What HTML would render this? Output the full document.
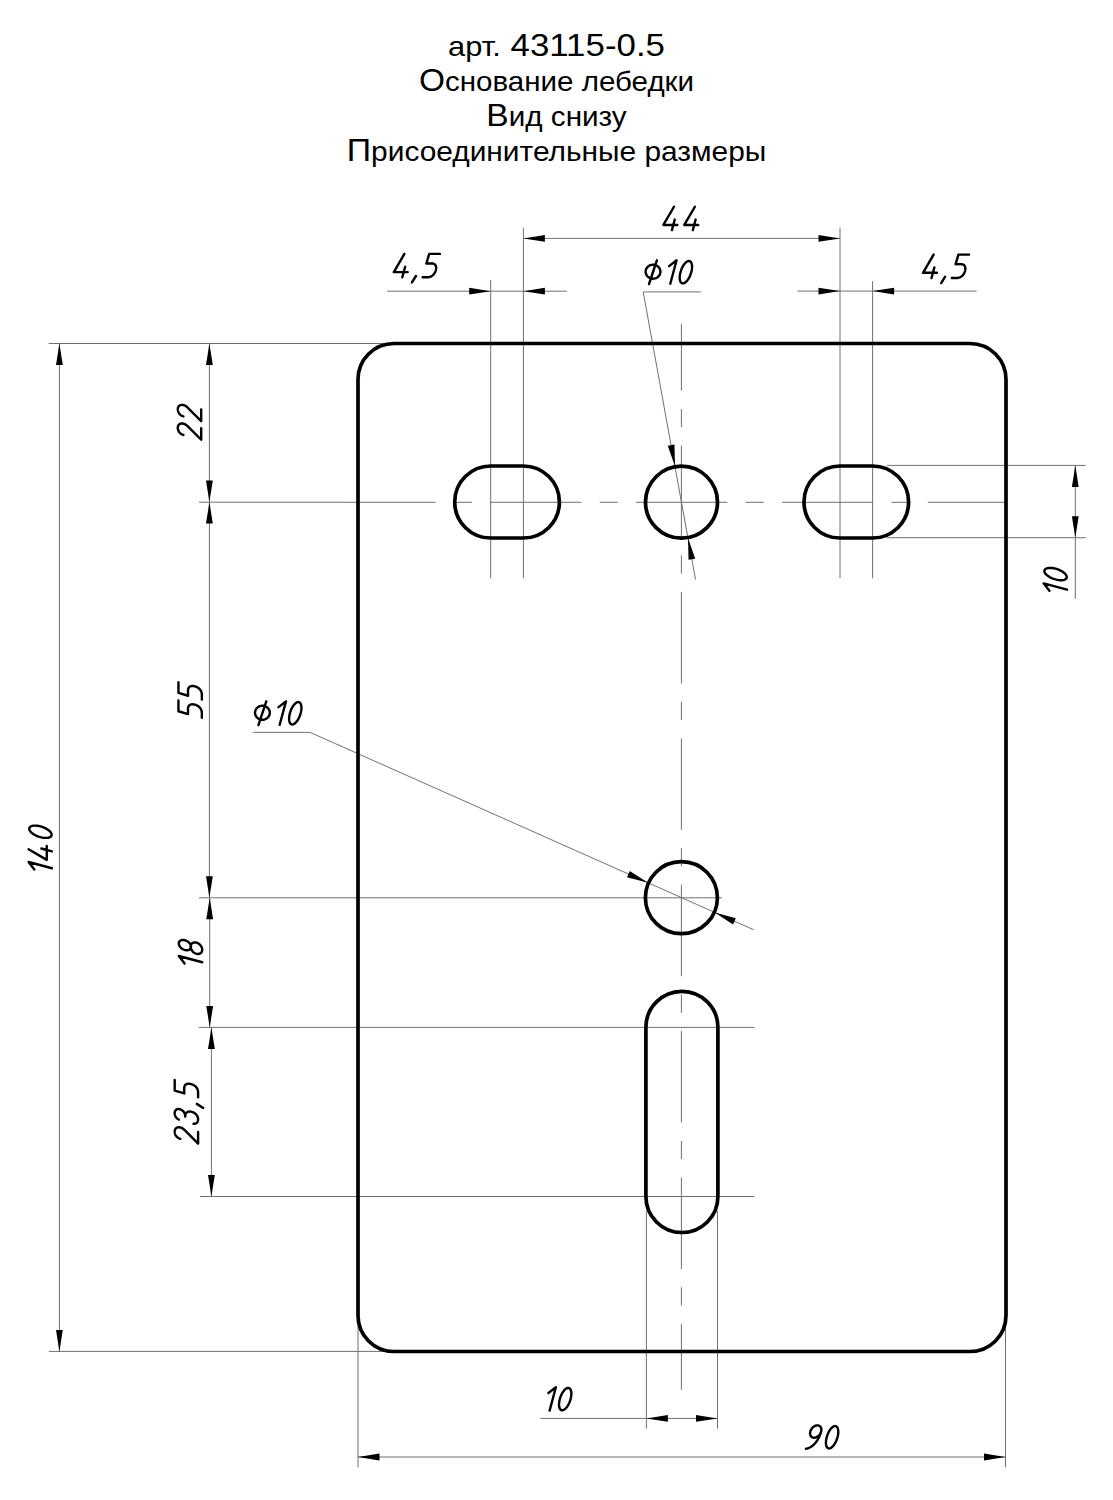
<!DOCTYPE html>
<html><head><meta charset="utf-8"><style>
html,body{margin:0;padding:0;background:#fff;width:1113px;height:1500px;overflow:hidden}
.t{position:absolute;left:0;width:1113px;text-align:center;font-family:"Liberation Sans",sans-serif;font-size:28px;line-height:35px;color:#000}
.c{font-size:31.7px}
svg{position:absolute;left:0;top:0}
</style></head><body>
<div class="t" style="top:27.7px;transform:scaleX(1.100)">арт.<span class="c"> 43115-0.5</span></div>
<div class="t" style="top:62.8px;transform:scaleX(1.055)"><span class="c">О</span>снование лебедки</div>
<div class="t" style="top:97.8px;transform:scaleX(1.059)"><span class="c">В</span>ид снизу</div>
<div class="t" style="top:132.7px;transform:scaleX(1.067)"><span class="c">П</span>рисоединительные размеры</div>
<svg width="1113" height="1500" viewBox="0 0 1113 1500">
<g fill="none" stroke="#707070" stroke-width="1"><line x1="48.70" y1="343.50" x2="393.00" y2="343.50"/>
<line x1="48.80" y1="1351.40" x2="393.00" y2="1351.40"/>
<line x1="199.00" y1="502.20" x2="344.20" y2="502.20"/>
<line x1="199.00" y1="897.80" x2="722.10" y2="897.80"/>
<line x1="199.00" y1="1027.40" x2="754.40" y2="1027.40"/>
<line x1="200.00" y1="1196.50" x2="754.40" y2="1196.50"/>
<line x1="887.00" y1="465.40" x2="1085.70" y2="465.40"/>
<line x1="887.00" y1="537.70" x2="1085.70" y2="537.70"/>
<line x1="490.70" y1="280.00" x2="490.70" y2="578.30"/>
<line x1="523.40" y1="227.60" x2="523.40" y2="578.30"/>
<line x1="840.00" y1="227.60" x2="840.00" y2="578.30"/>
<line x1="872.60" y1="281.20" x2="872.60" y2="578.30"/>
<line x1="646.40" y1="1211.00" x2="646.40" y2="1428.60"/>
<line x1="717.50" y1="1211.00" x2="717.50" y2="1428.60"/>
<line x1="358.00" y1="1326.00" x2="358.00" y2="1467.40"/>
<line x1="1005.50" y1="1326.00" x2="1005.50" y2="1467.40"/>
<line x1="59.40" y1="343.50" x2="59.40" y2="1351.40"/>
<line x1="209.40" y1="343.50" x2="209.40" y2="897.70"/>
<line x1="209.70" y1="897.70" x2="209.70" y2="1027.40"/>
<line x1="211.40" y1="1027.40" x2="211.40" y2="1196.50"/>
<line x1="523.40" y1="238.40" x2="840.00" y2="238.40"/>
<line x1="387.20" y1="291.20" x2="566.90" y2="291.20"/>
<line x1="797.40" y1="291.10" x2="976.70" y2="291.10"/>
<line x1="1075.30" y1="465.40" x2="1075.30" y2="598.90"/>
<line x1="540.50" y1="1418.40" x2="717.50" y2="1418.40"/>
<line x1="358.00" y1="1457.00" x2="1005.50" y2="1457.00"/>
<line x1="643.20" y1="291.90" x2="700.90" y2="291.90"/>
<line x1="643.20" y1="291.90" x2="695.50" y2="579.50"/>
<line x1="252.90" y1="732.40" x2="310.10" y2="732.40"/>
<line x1="310.10" y1="732.40" x2="753.80" y2="929.80"/></g>
<g fill="none" stroke="#707070" stroke-width="1"><line x1="681.4" y1="324" x2="681.4" y2="1389.8" stroke-dasharray="91.5 18.3 18.3 18.3" stroke-dashoffset="24.9"/>
<line x1="344.2" y1="502.3" x2="1005" y2="502.3" stroke-dasharray="91.3 18.3 18.0 18.3"/></g>
<g fill="#000" stroke="none"><polygon points="59.40,343.50 62.80,365.00 56.00,365.00"/>
<polygon points="59.40,1351.40 56.00,1329.90 62.80,1329.90"/>
<polygon points="209.40,343.50 212.80,365.00 206.00,365.00"/>
<polygon points="209.40,502.00 206.00,480.50 212.80,480.50"/>
<polygon points="209.40,502.00 212.80,523.50 206.00,523.50"/>
<polygon points="209.40,897.70 206.00,876.20 212.80,876.20"/>
<polygon points="209.70,897.70 213.10,919.20 206.30,919.20"/>
<polygon points="209.70,1027.40 206.30,1005.90 213.10,1005.90"/>
<polygon points="211.40,1027.40 214.80,1048.90 208.00,1048.90"/>
<polygon points="211.40,1196.50 208.00,1175.00 214.80,1175.00"/>
<polygon points="523.40,238.40 544.90,235.00 544.90,241.80"/>
<polygon points="840.00,238.40 818.50,241.80 818.50,235.00"/>
<polygon points="490.70,291.20 469.20,294.60 469.20,287.80"/>
<polygon points="523.40,291.20 544.90,287.80 544.90,294.60"/>
<polygon points="840.00,291.10 818.50,294.50 818.50,287.70"/>
<polygon points="872.60,291.10 894.10,287.70 894.10,294.50"/>
<polygon points="1075.30,465.40 1078.70,486.90 1071.90,486.90"/>
<polygon points="1075.30,537.70 1071.90,516.20 1078.70,516.20"/>
<polygon points="646.40,1418.40 667.90,1415.00 667.90,1421.80"/>
<polygon points="717.50,1418.40 696.00,1421.80 696.00,1415.00"/>
<polygon points="358.00,1457.00 379.50,1453.60 379.50,1460.40"/>
<polygon points="1005.50,1457.00 984.00,1460.40 984.00,1453.60"/>
<polygon points="674.97,466.29 667.78,445.74 674.47,444.53"/>
<polygon points="688.03,538.11 695.22,558.66 688.53,559.87"/>
<polygon points="648.05,882.86 627.03,877.23 629.79,871.02"/>
<polygon points="714.75,912.54 735.77,918.17 733.01,924.38"/></g>
<g fill="none" stroke="#000" stroke-width="3.7"><rect x="358.00" y="343.50" width="648.00" height="1008.00" rx="36.0" ry="36.0"/>
<path d="M490.70,466.00 L523.40,466.00 A36,36 0 0 1 523.40,538.00 L490.70,538.00 A36,36 0 0 1 490.70,466.00 Z"/>
<path d="M840.00,466.00 L872.60,466.00 A36,36 0 0 1 872.60,538.00 L840.00,538.00 A36,36 0 0 1 840.00,466.00 Z"/>
<circle cx="681.5" cy="502.2" r="36"/>
<circle cx="681.4" cy="897.7" r="36"/>
<path d="M717.90,1027.30 L717.90,1196.50 A36,36 0 0 1 645.90,1196.50 L645.90,1027.30 A36,36 0 0 1 717.90,1027.30 Z"/></g>
<g fill="none" stroke="#000" stroke-width="2.40" stroke-linecap="round" stroke-linejoin="round"><path d="M673.98,206.75 663.40,224.95 677.30,224.95M674.75,219.55 671.91,230.15M694.88,206.75 684.30,224.95 698.20,224.95M695.65,219.55 692.81,230.15"/>
<path d="M404.39,253.90 393.81,272.10 407.71,272.10M405.16,266.70 402.32,277.30M415.97,276.00 411.95,282.40M439.89,253.90 429.19,253.90 426.42,263.50 431.34,263.40 431.34,263.40 432.11,263.43 432.81,263.54 433.45,263.70 434.02,263.94 434.53,264.23 434.97,264.59 435.34,265.01 435.64,265.48 435.88,266.01 436.04,266.60 436.13,267.24 436.16,267.93 436.11,268.67 435.99,269.46 435.79,270.30 435.79,270.30 435.53,271.16 435.21,271.96 434.84,272.72 434.43,273.42 433.97,274.07 433.46,274.66 432.91,275.20 432.33,275.68 431.71,276.10 431.06,276.46 430.38,276.76 429.67,276.99 428.94,277.16 428.19,277.27 427.42,277.30 422.62,277.30"/>
<path d="M933.59,254.60 923.01,272.80 936.91,272.80M934.36,267.40 931.52,278.00M945.17,276.70 941.15,283.10M969.09,254.60 958.39,254.60 955.62,264.20 960.54,264.10 960.54,264.10 961.31,264.13 962.01,264.24 962.65,264.40 963.22,264.64 963.73,264.93 964.17,265.29 964.54,265.71 964.84,266.18 965.08,266.71 965.24,267.30 965.33,267.94 965.36,268.63 965.31,269.37 965.19,270.16 964.99,271.00 964.99,271.00 964.73,271.86 964.41,272.66 964.04,273.42 963.63,274.12 963.17,274.77 962.66,275.36 962.11,275.90 961.53,276.38 960.91,276.80 960.26,277.16 959.58,277.46 958.87,277.69 958.14,277.86 957.39,277.97 956.62,278.00 951.82,278.00"/>
<path d="M660.42,271.70 660.32,272.82 660.04,273.92 659.57,274.95 658.93,275.91 658.14,276.75 657.22,277.46 656.19,278.02 655.08,278.42 653.91,278.65 652.72,278.69 651.54,278.56 650.39,278.25 649.32,277.76 648.34,277.12 647.48,276.34 646.76,275.44 646.21,274.44 645.83,273.38 645.64,272.26 645.64,271.14 645.83,270.02 646.21,268.96 646.76,267.96 647.48,267.06 648.34,266.28 649.32,265.64 650.39,265.15 651.54,264.84 652.72,264.71 653.91,264.75 655.08,264.98 656.19,265.38 657.22,265.94 658.14,266.65 658.93,267.49 659.57,268.45 660.04,269.48 660.32,270.58 660.42,271.70M656.87,260.30 649.02,284.00M669.12,266.10 676.57,260.30 670.30,283.70M691.28,272.20 690.73,274.00 690.05,275.75 689.27,277.40 688.40,278.93 687.46,280.28 686.48,281.42 685.49,282.32 684.50,282.96 683.55,283.32 682.67,283.39 681.86,283.17 681.16,282.67 680.58,281.90 680.14,280.88 679.85,279.63 679.71,278.19 679.74,276.59 679.92,274.88 680.26,273.10 680.74,271.30 681.36,269.52 682.09,267.81 682.92,266.21 683.83,264.77 684.79,263.52 685.78,262.50 686.77,261.73 687.74,261.23 688.66,261.01 689.51,261.08 690.27,261.44 690.91,262.08 691.42,262.98 691.79,264.12 692.00,265.47 692.06,267.00 691.96,268.65 691.69,270.40 691.28,272.20"/>
<path d="M1049.45,590.82 1043.65,583.37 1067.05,589.64M1055.55,568.66 1057.35,569.21 1059.10,569.88 1060.75,570.67 1062.28,571.54 1063.63,572.48 1064.77,573.46 1065.67,574.45 1066.31,575.44 1066.67,576.38 1066.74,577.27 1066.52,578.08 1066.02,578.78 1065.25,579.35 1064.23,579.80 1062.98,580.09 1061.54,580.22 1059.94,580.20 1058.23,580.02 1056.45,579.68 1054.65,579.20 1052.87,578.58 1051.16,577.85 1049.56,577.02 1048.12,576.11 1046.87,575.15 1045.85,574.16 1045.08,573.16 1044.58,572.20 1044.36,571.27 1044.43,570.43 1044.79,569.67 1045.43,569.03 1046.33,568.52 1047.47,568.15 1048.82,567.94 1050.35,567.88 1052.00,567.98 1053.75,568.24 1055.55,568.66"/>
<path d="M183.40,434.96 182.74,434.75 182.11,434.49 181.51,434.18 180.95,433.82 180.44,433.42 179.96,432.98 179.53,432.51 179.14,432.01 178.79,431.48 178.50,430.92 178.25,430.34 178.06,429.74 177.91,429.12 177.83,428.49 177.80,427.86 177.80,427.86 177.83,427.22 177.92,426.62 178.08,426.07 178.29,425.57 178.55,425.11 178.86,424.71 179.23,424.36 179.64,424.06 180.09,423.83 180.59,423.65 181.12,423.53 181.69,423.47 182.30,423.48 182.93,423.56 183.60,423.71 183.60,423.71 183.99,423.83 184.37,423.96 184.73,424.12 185.09,424.29 185.43,424.48 185.76,424.68 186.09,424.90 186.41,425.14 186.72,425.39 187.04,425.65 187.35,425.93 187.66,426.22 187.97,426.52 188.28,426.83 188.60,427.15 201.20,439.73 201.20,428.13M183.40,416.36 182.74,416.15 182.11,415.89 181.51,415.58 180.95,415.22 180.44,414.82 179.96,414.38 179.53,413.91 179.14,413.41 178.79,412.88 178.50,412.32 178.25,411.74 178.06,411.14 177.91,410.52 177.83,409.89 177.80,409.26 177.80,409.26 177.83,408.62 177.92,408.02 178.08,407.47 178.29,406.97 178.55,406.51 178.86,406.11 179.23,405.76 179.64,405.46 180.09,405.23 180.59,405.05 181.12,404.93 181.69,404.87 182.30,404.88 182.93,404.96 183.60,405.11 183.60,405.11 183.99,405.23 184.37,405.36 184.73,405.52 185.09,405.69 185.43,405.88 185.76,406.08 186.09,406.30 186.41,406.54 186.72,406.79 187.04,407.05 187.35,407.33 187.66,407.62 187.97,407.92 188.28,408.23 188.60,408.55 201.20,421.13 201.20,409.53"/>
<path d="M178.45,700.56 178.45,711.26 188.05,714.04 187.95,709.11 187.95,709.11 187.98,708.34 188.09,707.64 188.25,707.00 188.49,706.43 188.78,705.92 189.14,705.48 189.56,705.11 190.03,704.81 190.56,704.58 191.15,704.41 191.79,704.32 192.48,704.30 193.22,704.34 194.01,704.47 194.85,704.66 194.85,704.66 195.71,704.92 196.51,705.24 197.27,705.61 197.97,706.03 198.62,706.49 199.21,706.99 199.75,707.54 200.23,708.12 200.65,708.74 201.01,709.39 201.31,710.07 201.54,710.78 201.71,711.51 201.82,712.26 201.85,713.04 201.85,717.84M178.45,682.26 178.45,692.96 188.05,695.74 187.95,690.81 187.95,690.81 187.98,690.04 188.09,689.34 188.25,688.70 188.49,688.13 188.78,687.62 189.14,687.18 189.56,686.81 190.03,686.51 190.56,686.28 191.15,686.11 191.79,686.02 192.48,686.00 193.22,686.04 194.01,686.17 194.85,686.36 194.85,686.36 195.71,686.62 196.51,686.94 197.27,687.31 197.97,687.73 198.62,688.19 199.21,688.69 199.75,689.24 200.23,689.82 200.65,690.44 201.01,691.09 201.31,691.77 201.54,692.48 201.71,693.21 201.82,693.96 201.85,694.74 201.85,699.54"/>
<path d="M34.35,869.42 28.55,861.97 51.95,868.24M28.55,849.27 46.75,859.84 46.75,845.94M41.35,848.50 51.95,851.34M40.45,826.36 42.25,826.91 44.00,827.58 45.65,828.37 47.18,829.24 48.53,830.18 49.67,831.16 50.57,832.15 51.21,833.14 51.57,834.08 51.64,834.97 51.42,835.78 50.92,836.48 50.15,837.05 49.13,837.50 47.88,837.79 46.44,837.92 44.84,837.90 43.13,837.72 41.35,837.38 39.55,836.90 37.77,836.28 36.06,835.55 34.46,834.72 33.02,833.81 31.77,832.85 30.75,831.86 29.98,830.86 29.48,829.90 29.26,828.97 29.33,828.13 29.69,827.37 30.33,826.73 31.23,826.22 32.37,825.85 33.72,825.64 35.25,825.58 36.90,825.68 38.65,825.94 40.45,826.36"/>
<path d="M269.82,712.75 269.72,713.87 269.44,714.97 268.97,716.00 268.33,716.96 267.54,717.80 266.62,718.51 265.59,719.07 264.48,719.47 263.31,719.70 262.12,719.74 260.94,719.61 259.79,719.30 258.72,718.81 257.74,718.17 256.88,717.39 256.16,716.49 255.61,715.49 255.23,714.43 255.04,713.31 255.04,712.19 255.23,711.07 255.61,710.01 256.16,709.01 256.88,708.11 257.74,707.33 258.72,706.69 259.79,706.20 260.94,705.89 262.12,705.76 263.31,705.80 264.48,706.03 265.59,706.43 266.62,706.99 267.54,707.70 268.33,708.54 268.97,709.50 269.44,710.53 269.72,711.63 269.82,712.75M266.27,701.35 258.42,725.05M278.52,707.15 285.97,701.35 279.70,724.75M300.68,713.25 300.13,715.05 299.45,716.80 298.67,718.45 297.80,719.98 296.86,721.33 295.88,722.47 294.89,723.37 293.90,724.01 292.95,724.37 292.07,724.44 291.26,724.22 290.56,723.72 289.98,722.95 289.54,721.93 289.25,720.68 289.11,719.24 289.14,717.64 289.32,715.93 289.66,714.15 290.14,712.35 290.76,710.57 291.49,708.86 292.32,707.26 293.23,705.82 294.19,704.57 295.18,703.55 296.17,702.78 297.14,702.28 298.06,702.06 298.91,702.13 299.67,702.49 300.31,703.13 300.82,704.03 301.19,705.17 301.40,706.52 301.46,708.05 301.36,709.70 301.09,711.45 300.68,713.25"/>
<path d="M184.60,963.44 178.80,955.99 202.20,962.26M184.90,940.22 185.88,940.55 186.83,940.99 187.73,941.54 188.56,942.19 189.30,942.91 189.92,943.68 190.41,944.50 190.76,945.33 190.96,946.15 191.00,946.95 190.88,947.70 190.60,948.39 190.18,948.99 189.63,949.49 188.95,949.87 188.16,950.14 187.29,950.27 186.36,950.27 185.39,950.14 184.41,949.88 183.44,949.49 182.51,948.99 181.64,948.39 180.85,947.71 180.17,946.96 179.62,946.16 179.20,945.33 178.92,944.50 178.80,943.69 178.84,942.91 179.04,942.19 179.39,941.55 179.88,940.99 180.50,940.55 181.24,940.22 182.07,940.02 182.97,939.96 183.92,940.02 184.90,940.22M196.40,942.60 197.33,942.93 198.24,943.38 199.10,943.97 199.88,944.66 200.58,945.45 201.17,946.30 201.64,947.21 201.97,948.14 202.16,949.07 202.20,949.98 202.08,950.85 201.82,951.64 201.42,952.35 200.89,952.95 200.25,953.43 199.50,953.77 198.67,953.97 197.79,954.01 196.87,953.91 195.93,953.66 195.01,953.27 194.13,952.75 193.30,952.11 192.55,951.37 191.91,950.54 191.38,949.66 190.98,948.74 190.72,947.80 190.60,946.88 190.64,945.99 190.83,945.15 191.16,944.40 191.63,943.74 192.22,943.20 192.92,942.79 193.70,942.52 194.56,942.40 195.47,942.43 196.40,942.60"/>
<path d="M180.30,1138.77 179.64,1138.56 179.01,1138.29 178.41,1137.98 177.85,1137.63 177.34,1137.23 176.86,1136.79 176.43,1136.32 176.04,1135.82 175.69,1135.28 175.40,1134.73 175.15,1134.14 174.96,1133.54 174.81,1132.93 174.73,1132.30 174.70,1131.66 174.70,1131.66 174.73,1131.03 174.82,1130.43 174.98,1129.88 175.19,1129.38 175.45,1128.92 175.76,1128.52 176.13,1128.17 176.54,1127.87 176.99,1127.63 177.49,1127.46 178.02,1127.34 178.59,1127.28 179.20,1127.29 179.83,1127.37 180.50,1127.52 180.50,1127.52 180.89,1127.64 181.27,1127.77 181.63,1127.93 181.99,1128.10 182.33,1128.29 182.66,1128.49 182.99,1128.71 183.31,1128.95 183.62,1129.20 183.94,1129.46 184.25,1129.74 184.56,1130.03 184.87,1130.33 185.18,1130.64 185.50,1130.96 198.10,1143.54 198.10,1131.94M178.90,1119.59 178.38,1119.31 177.88,1119.01 177.43,1118.67 177.00,1118.31 176.61,1117.93 176.26,1117.53 175.93,1117.10 175.65,1116.66 175.40,1116.19 175.19,1115.71 175.01,1115.21 174.88,1114.69 174.78,1114.16 174.72,1113.62 174.70,1113.06 174.70,1113.06 174.73,1112.47 174.81,1111.91 174.95,1111.40 175.14,1110.94 175.38,1110.52 175.67,1110.15 176.00,1109.84 176.36,1109.57 176.77,1109.36 177.22,1109.20 177.70,1109.10 178.21,1109.05 178.75,1109.06 179.31,1109.13 179.90,1109.26 179.90,1109.26 180.53,1109.46 181.12,1109.71 181.68,1110.01 182.21,1110.36 182.70,1110.76 183.15,1111.19 183.56,1111.66 183.93,1112.17 184.26,1112.72 184.54,1113.29 184.77,1113.88 184.96,1114.50 185.09,1115.15 185.17,1115.80 185.20,1116.48M185.20,1116.48 185.24,1115.71 185.34,1115.00 185.51,1114.36 185.75,1113.78 186.04,1113.27 186.40,1112.82 186.81,1112.44 187.28,1112.12 187.79,1111.87 188.36,1111.69 188.96,1111.58 189.62,1111.54 190.31,1111.57 191.04,1111.67 191.80,1111.85 191.80,1111.85 192.54,1112.08 193.25,1112.37 193.91,1112.71 194.54,1113.10 195.12,1113.53 195.66,1114.00 196.15,1114.51 196.59,1115.05 196.98,1115.61 197.31,1116.20 197.59,1116.80 197.81,1117.43 197.97,1118.06 198.07,1118.69 198.10,1119.34 198.10,1119.34 198.08,1119.92 198.01,1120.46 197.89,1120.97 197.73,1121.45 197.53,1121.88 197.29,1122.27 197.01,1122.62 196.69,1122.92 196.33,1123.18 195.94,1123.39 195.51,1123.56 195.05,1123.67 194.56,1123.73 194.05,1123.75 193.50,1123.70M196.80,1103.89 203.20,1107.90M174.70,1079.96 174.70,1090.66 184.30,1093.44 184.20,1088.51 184.20,1088.51 184.23,1087.74 184.34,1087.04 184.50,1086.40 184.74,1085.83 185.03,1085.32 185.39,1084.88 185.81,1084.51 186.28,1084.21 186.81,1083.98 187.40,1083.81 188.04,1083.72 188.73,1083.70 189.47,1083.74 190.26,1083.87 191.10,1084.06 191.10,1084.06 191.96,1084.32 192.76,1084.64 193.52,1085.01 194.22,1085.43 194.87,1085.89 195.46,1086.39 196.00,1086.94 196.48,1087.52 196.90,1088.14 197.26,1088.79 197.56,1089.47 197.79,1090.18 197.96,1090.91 198.07,1091.66 198.10,1092.44 198.10,1097.24"/>
<path d="M548.43,1393.00 555.88,1387.20 549.61,1410.60M570.59,1399.10 570.04,1400.90 569.37,1402.65 568.58,1404.30 567.71,1405.83 566.77,1407.18 565.79,1408.32 564.80,1409.22 563.81,1409.86 562.87,1410.22 561.98,1410.29 561.17,1410.07 560.47,1409.57 559.90,1408.80 559.45,1407.78 559.16,1406.53 559.03,1405.09 559.05,1403.49 559.23,1401.78 559.57,1400.00 560.05,1398.20 560.67,1396.42 561.40,1394.71 562.23,1393.11 563.14,1391.67 564.10,1390.42 565.09,1389.40 566.09,1388.63 567.05,1388.13 567.98,1387.91 568.82,1387.98 569.58,1388.34 570.22,1388.98 570.73,1389.88 571.10,1391.02 571.31,1392.37 571.37,1393.90 571.27,1395.55 571.01,1397.30 570.59,1399.10"/>
<path d="M821.13,1431.55 820.79,1432.54 820.33,1433.51 819.74,1434.43 819.05,1435.27 818.27,1436.02 817.43,1436.65 816.54,1437.15 815.64,1437.50 814.73,1437.70 813.85,1437.74 813.02,1437.62 812.26,1437.34 811.59,1436.92 811.03,1436.35 810.59,1435.66 810.28,1434.86 810.11,1433.98 810.09,1433.03 810.21,1432.05 810.48,1431.05 810.88,1430.06 811.41,1429.12 812.05,1428.23 812.79,1427.44 813.60,1426.74 814.47,1426.18 815.37,1425.75 816.28,1425.47 817.17,1425.35 818.03,1425.39 818.83,1425.59 819.55,1425.95 820.16,1426.44 820.67,1427.08 821.04,1427.82 821.28,1428.67 821.38,1429.58 821.33,1430.55 821.13,1431.55M821.13,1431.55 820.59,1433.36 819.95,1435.11 819.23,1436.79 818.42,1438.40 817.54,1439.92 816.59,1441.35 815.57,1442.67 814.50,1443.89 813.38,1445.00 812.21,1445.98 811.01,1446.83 809.77,1447.53 808.50,1448.10 807.22,1448.50 805.92,1448.75M837.50,1437.25 836.95,1439.04 836.27,1440.79 835.49,1442.45 834.62,1443.98 833.68,1445.32 832.70,1446.46 831.71,1447.37 830.72,1448.01 829.77,1448.37 828.89,1448.44 828.08,1448.22 827.38,1447.72 826.80,1446.95 826.36,1445.92 826.07,1444.67 825.93,1443.23 825.96,1441.64 826.14,1439.93 826.48,1438.15 826.96,1436.35 827.58,1434.57 828.31,1432.86 829.14,1431.26 830.05,1429.82 831.01,1428.57 832.00,1427.55 832.99,1426.78 833.96,1426.27 834.88,1426.06 835.73,1426.13 836.49,1426.49 837.13,1427.13 837.64,1428.03 838.01,1429.17 838.22,1430.52 838.28,1432.04 838.18,1433.70 837.91,1435.45 837.50,1437.25"/></g>
</svg>
</body></html>
